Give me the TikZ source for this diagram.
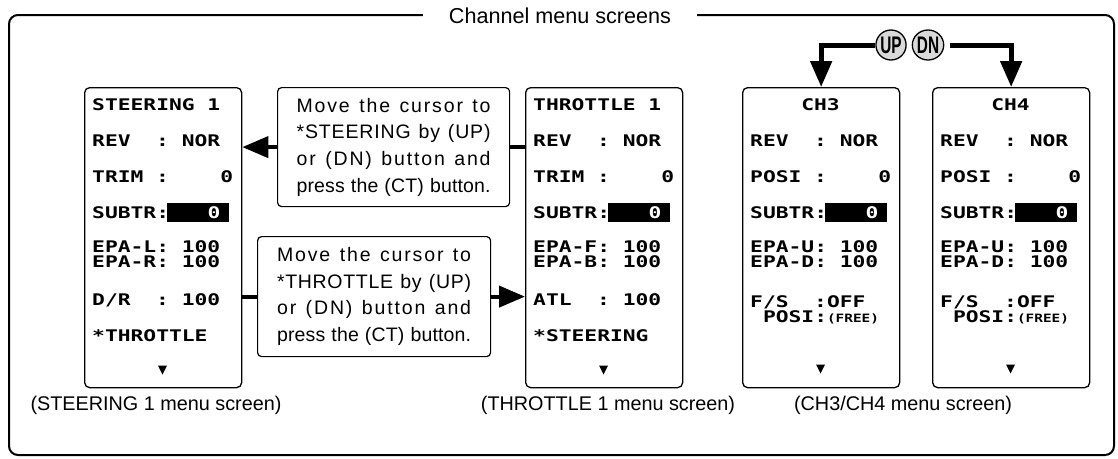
\documentclass[tikz,border=0pt]{standalone}
\usepackage{fontspec}
\setmainfont{Liberation Sans}
\newfontfamily\lcdfont[FakeStretch=1.33]{DejaVu Sans Mono}
\newfontfamily\lcdsmall[FakeStretch=1.25]{DejaVu Sans Mono}
\newfontfamily\tbfont{Liberation Sans}
\newfontfamily\btnfont[FakeStretch=0.64]{Liberation Sans}
\usetikzlibrary{arrows.meta,shapes.geometric,calc}
\newcommand\lcdsetup{\lcdfont\bfseries\fontsize{16}{18}\selectfont\spaceskip 12.81pt\relax\xspaceskip 12.81pt\relax}
\newcommand\lcdrow[4]{\node[lcdtext] (#1) at (#2,#3) {#4};}
\newcommand\tbl[2]{\makebox[194pt][s]{\addfontfeature{LetterSpace=#1}#2}}
\newcommand\downmark[2]{\fill (#1-4.5,#2-4.5) -- (#1+4.5,#2-4.5) -- (#1,#2+4.5) -- cycle;}
\begin{document}
\begin{tikzpicture}[x=1pt,y=-1pt,
  screen/.style={draw,line width=1.3pt,rounded corners=5pt,minimum width=157pt,minimum height=300pt,anchor=north west,inner sep=0pt},
  lcdtext/.style={anchor=west,inner sep=0pt,text height=11.7pt,text depth=0pt,font=\lcdsetup},
  textbox/.style={draw,line width=1.2pt,rounded corners=4pt,anchor=north west,align=center,inner sep=0pt,font=\tbfont\fontsize{19.5}{26.7}\selectfont},
  captext/.style={inner sep=0pt,font=\fontsize{19.8}{22}\selectfont},
  btn/.style={ellipse,draw,line width=1.3pt,fill=black!15,minimum width=29pt,minimum height=30pt,inner sep=0pt,font=\btnfont\bfseries\fontsize{24}{24}\selectfont},
  conn/.style={line width=4pt},
  arr/.style={line width=4pt,-{Triangle[length=26pt,width=21pt]}}]
\useasboundingbox (0,0) rectangle (1118,458);
% outer frame and title
\draw[line width=2pt,rounded corners=9pt] (9,15) rectangle (1114,455);
\node[fill=white,inner xsep=26pt,inner ysep=2pt,font=\fontsize{21.6}{24}\selectfont] (title) at (560,16) {Channel menu screens};
% screens
\node[screen] (steer) at (84,87) {};
\node[screen] (thr) at (525,87) {};
\node[screen] (ch3) at (742,87) {};
\node[screen] (ch4) at (932,87) {};
% STEERING 1
\begin{scope}[shift={(84,0)}]
\lcdrow{sa}{8}{105}{STEERING~1}
\lcdrow{sb}{8}{141}{REV~~:~NOR}
\lcdrow{sc}{8}{177}{TRIM~:~~~~0}
\fill (83,203) rectangle (145,222);
\lcdrow{sd}{8}{213}{SUBTR:}
\node[lcdtext,text=white] (sdv) at (123.3,213) {0};
\lcdrow{se}{8}{247}{EPA-L:~100}
\lcdrow{sf}{8}{261.5}{EPA-R:~100}
\lcdrow{sg}{8}{300}{D/R~~:~100}
\lcdrow{sh}{8}{336}{*THROTTLE}
\downmark{78.5}{370}
\end{scope}
% THROTTLE 1
\begin{scope}[shift={(525,0)}]
\lcdrow{ta}{8}{105}{THROTTLE~1}
\lcdrow{tb}{8}{141}{REV~~:~NOR}
\lcdrow{tc}{8}{177}{TRIM~:~~~~0}
\fill (83,203) rectangle (145,222);
\lcdrow{td}{8}{213}{SUBTR:}
\node[lcdtext,text=white] (tdv) at (123.3,213) {0};
\lcdrow{te}{8}{247}{EPA-F:~100}
\lcdrow{tf}{8}{261.5}{EPA-B:~100}
\lcdrow{tg}{8}{300}{ATL~~:~100}
\lcdrow{th}{8}{336}{*STEERING}
\downmark{78.5}{370}
\end{scope}
% CH3 and CH4
\foreach \cx/\nm/\lab in {742/c/CH3,932/d/CH4}{
\begin{scope}[shift={(\cx,0)}]
\node[lcdtext,anchor=center] (\nm a) at (78.5,105) {\lab};
\lcdrow{\nm b}{8}{141}{REV~~:~NOR}
\lcdrow{\nm c}{8}{177}{POSI~:~~~~0}
\fill (83,203) rectangle (145,222);
\lcdrow{\nm d}{8}{213}{SUBTR:}
\node[lcdtext,text=white] (\nm dv) at (123.3,213) {0};
\lcdrow{\nm e}{8}{247}{EPA-U:~100}
\lcdrow{\nm f}{8}{261.5}{EPA-D:~100}
\lcdrow{\nm g}{8}{302}{F/S~~:OFF}
\lcdrow{\nm h}{8}{317}{~POSI:{\lcdsmall\bfseries\fontsize{11.5}{12}\selectfont(FREE)}}
\downmark{78.5}{369}
\end{scope}}
% text boxes
\node[textbox,minimum width=232pt,minimum height=119pt] (tb1) at (277,87)
  {\tbl{9.5}{Move the cursor to}\\\tbl{4.5}{*STEERING by (UP)}\\\tbl{9.5}{or (DN) button and}\\\tbl{0.8}{press the (CT) button.}};
\node[textbox,minimum width=233pt,minimum height=120pt] (tb2) at (257,236)
  {\tbl{9.5}{Move the cursor to}\\\tbl{3.5}{*THROTTLE by (UP)}\\\tbl{9.5}{or (DN) button and}\\\tbl{0.8}{press the (CT) button.}};
% connectors
\draw[conn] (thr.west |- tb1.east) -- (tb1.east);
\draw[arr] (tb1.west) -- (tb1.west -| steer.east);
\draw[conn] (steer.east |- tb2.west) -- (tb2.west);
\draw[arr] (tb2.east) -- (tb2.east -| thr.west);
% UP / DN
\node[btn] (up) at (891,45) {UP};
\node[btn] (dn) at (928,45) {DN};
\draw[arr,line width=5pt] (up.west) -| (ch3.north);
\draw[arr,line width=5pt] ([xshift=6pt]dn.east) -| (ch4.north);
% captions
\node[captext] (c1) at (156,405) {(STEERING 1 menu screen)};
\node[captext] (c2) at (608,405) {(THROTTLE 1 menu screen)};
\node[captext] (c3) at (903,405) {(CH3/CH4 menu screen)};
\end{tikzpicture}
\end{document}
